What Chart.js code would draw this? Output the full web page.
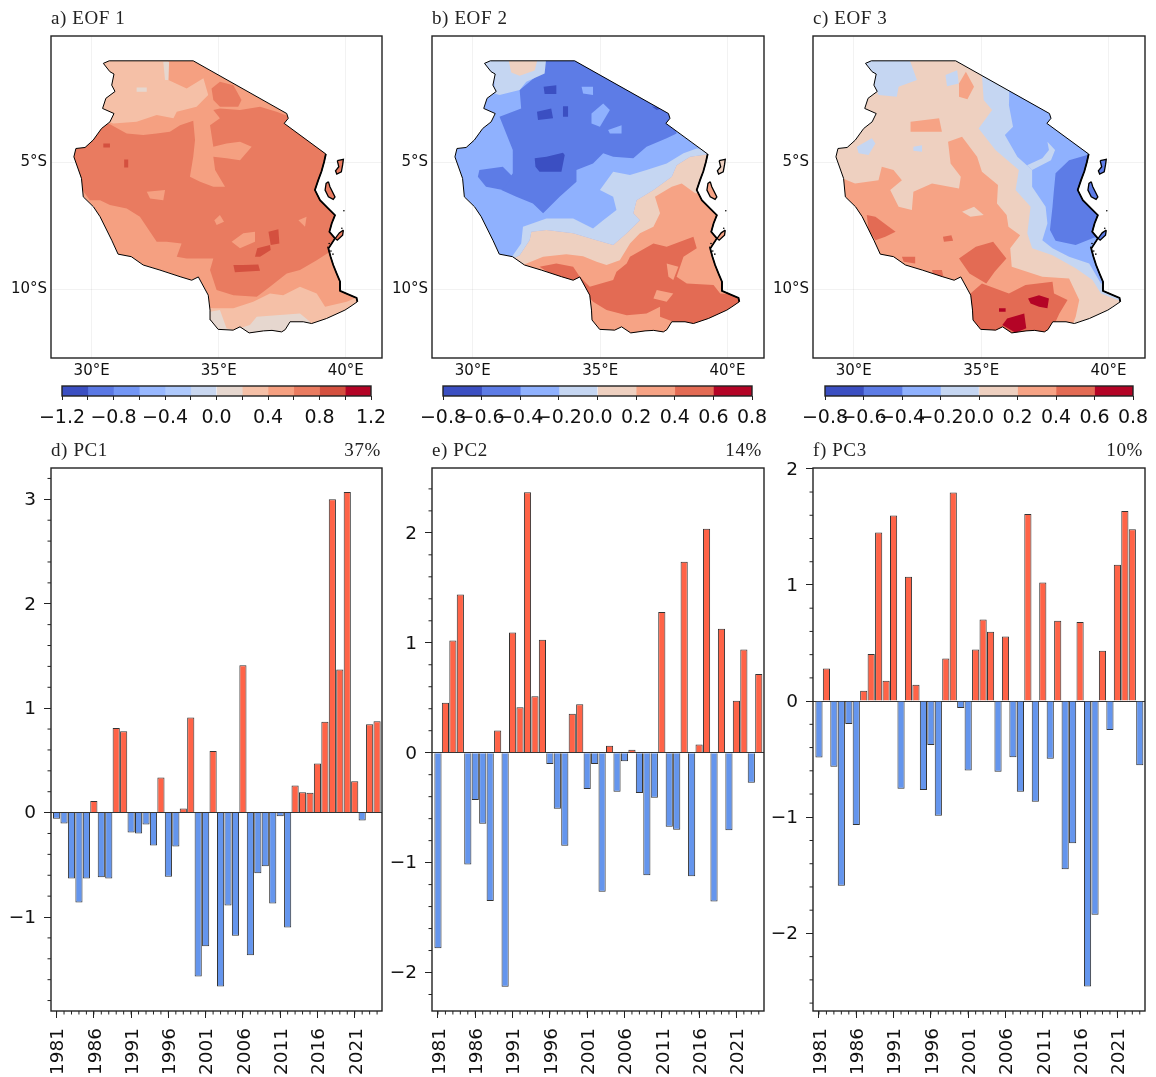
<!DOCTYPE html>
<html><head><meta charset="utf-8">
<script src="https://cdn.jsdelivr.net/npm/chart.js@4"></script>
<style>
html,body{margin:0;padding:0;background:#fff}
#page{position:relative;width:1156px;height:1077px;overflow:hidden;background:#fff}
canvas{position:absolute}
.t{position:absolute;font-family:"Liberation Serif",serif;font-size:19px;letter-spacing:.6px;color:#222;line-height:20px;white-space:nowrap}
</style></head><body><div id="page"></div>
<script>
// ---------- time series ----------
const years=[1981,1982,1983,1984,1985,1986,1987,1988,1989,1990,1991,1992,1993,1994,1995,1996,1997,1998,1999,2000,2001,2002,2003,2004,2005,2006,2007,2008,2009,2010,2011,2012,2013,2014,2015,2016,2017,2018,2019,2020,2021,2022,2023,2024];
const yearLabels=[1981,1986,1991,1996,2001,2006,2011,2016,2021];
const pc1=[-0.06,-0.105,-0.63,-0.86,-0.63,0.11,-0.62,-0.63,0.81,0.78,-0.19,-0.20,-0.115,-0.315,0.335,-0.615,-0.325,0.04,0.91,-1.57,-1.28,0.59,-1.665,-0.89,-1.18,1.41,-1.365,-0.58,-0.515,-0.87,-0.035,-1.10,0.26,0.195,0.19,0.47,0.87,3.0,1.37,3.07,0.30,-0.075,0.845,0.875];
const pc2=[-1.78,0.455,1.02,1.44,-1.017,-0.43,-0.647,-1.35,0.203,-2.13,1.094,0.414,2.37,0.514,1.028,-0.104,-0.51,-0.847,0.355,0.44,-0.33,-0.104,-1.264,0.063,-0.355,-0.078,0.026,-0.366,-1.116,-0.41,1.28,-0.673,-0.70,1.737,-1.124,0.074,2.037,-1.353,1.128,-0.706,0.473,0.939,-0.274,0.717];
const pc3=[-0.486,0.28,-0.566,-1.59,-0.196,-1.066,0.09,0.405,1.451,0.175,1.598,-0.755,1.07,0.14,-0.766,-0.378,-0.986,0.367,1.797,-0.06,-0.598,0.444,0.703,0.598,-0.608,0.556,-0.483,-0.78,1.612,-0.867,1.021,-0.497,0.692,-1.448,-1.224,0.682,-2.458,-1.839,0.434,-0.248,1.175,1.636,1.479,-0.552];
const pc1Ticks=[-1,0,1,2,3], pc2Ticks=[-2,-1,0,1,2], pc3Ticks=[-2,-1,0,1,2];
const pc1Minor=[-1.8,-1.6,-1.4,-1.2,-0.8,-0.6,-0.4,-0.2,0.2,0.4,0.6,0.8,1.2,1.4,1.6,1.8,2.2,2.4,2.6,2.8,3.2];
const pc2Minor=[-2.2,-1.8,-1.6,-1.4,-1.2,-0.8,-0.6,-0.4,-0.2,0.2,0.4,0.6,0.8,1.2,1.4,1.6,1.8,2.2,2.4];
const pc3Minor=[-2.6,-2.4,-2.2,-1.8,-1.6,-1.4,-1.2,-0.8,-0.6,-0.4,-0.2,0.2,0.4,0.6,0.8,1.2,1.4,1.6,1.8];
const positiveColor='#ff6347', negativeColor='#6495ed';

// ---------- colour scales ----------
const levels12=[-1.2,-1,-0.8,-0.6,-0.4,-0.2,0,0.2,0.4,0.6,0.8,1,1.2];
const colors12=['#3b4fc2','#5a78e4','#7396f5','#98b8ff','#aec9fc','#c9d7f0','#e6d7cf','#f5c0a7','#f5a081','#e97b60','#d4503f','#b40426'];
const labels12=[-1.2,-0.8,-0.4,0,0.4,0.8,1.2];
const levels8=[-0.8,-0.6,-0.4,-0.2,0,0.2,0.4,0.6,0.8];
const colors8=['#3b4fc2','#5d7ce6','#8fb1fe','#c5d6f2','#eed0c0','#f6a385','#e36b54','#b40426'];
const labels8=[-0.8,-0.6,-0.4,-0.2,0,0.2,0.4,0.6,0.8];

// ---------- map geography (lon, lat) ----------
const tanzania=[[30.46,-1.09],[30.69,-0.99],[34.0,-0.99],[37.68,-3.07],[37.74,-3.26],[37.58,-3.46],[39.22,-4.67],[39.15,-4.98],[39.05,-5.35],[38.92,-5.7],[38.79,-6.09],[38.99,-6.49],[39.32,-6.82],[39.58,-7.08],[39.45,-7.41],[39.36,-7.74],[39.58,-8.0],[39.32,-8.4],[39.4,-8.7],[39.51,-9.05],[39.65,-9.4],[39.78,-9.71],[39.78,-10.07],[40.17,-10.24],[40.43,-10.35],[40.46,-10.5],[40.17,-10.7],[39.97,-10.83],[39.25,-11.16],[38.66,-11.36],[38.33,-11.29],[37.81,-11.29],[37.62,-11.6],[37.48,-11.69],[37.1,-11.63],[36.76,-11.65],[36.2,-11.73],[35.84,-11.49],[35.57,-11.62],[34.98,-11.59],[34.68,-11.22],[34.66,-10.83],[34.59,-10.24],[34.2,-9.52],[33.94,-9.65],[33.48,-9.51],[32.69,-9.25],[32.03,-9.05],[31.56,-8.72],[31.04,-8.62],[30.79,-8.07],[30.33,-7.14],[30.07,-6.75],[29.67,-6.36],[29.6,-5.63],[29.3,-4.78],[29.38,-4.45],[29.74,-4.41],[30.06,-4.12],[30.39,-3.66],[30.72,-3.4],[30.88,-3.07],[30.43,-2.87],[30.56,-2.47],[30.92,-2.2],[30.79,-1.95],[30.88,-1.51],[30.72,-1.42],[30.46,-1.09]];
const eastCoast=[[39.22,-4.67],[39.15,-4.98],[39.05,-5.35],[38.92,-5.7],[38.79,-6.09],[38.99,-6.49],[39.32,-6.82],[39.58,-7.08],[39.45,-7.41],[39.36,-7.74],[39.58,-8.0],[39.32,-8.4],[39.4,-8.7],[39.51,-9.05],[39.65,-9.4],[39.78,-9.71],[39.78,-10.07],[40.17,-10.24],[40.43,-10.35],[40.46,-10.5]];
const pemba=[[39.67,-4.93],[39.91,-4.88],[39.88,-5.1],[39.83,-5.37],[39.65,-5.46],[39.6,-5.33],[39.73,-5.17],[39.67,-4.93]];
const zanzibar=[[39.32,-5.76],[39.38,-5.96],[39.58,-6.36],[39.51,-6.46],[39.32,-6.36],[39.19,-6.09],[39.23,-5.83],[39.32,-5.76]];
const mafia=[[39.91,-7.67],[39.88,-7.87],[39.67,-8.07],[39.59,-8.0],[39.75,-7.78],[39.91,-7.67]];
const islets=[{x:39.93,y:-6.91},{x:39.85,y:-7.6},{x:39.35,y:-8.2},{x:39.3,y:-8.35},{x:39.42,y:-8.5},{x:39.5,y:-8.62}];

// EOF 1 contour regions
const e1North=[[30.33,-0.83],[33.02,-0.83],[33.02,-1.75],[33.74,-2.08],[34.4,-1.68],[34.59,-2.34],[34.13,-2.8],[33.35,-3.0],[33.22,-3.26],[32.56,-3.13],[31.77,-3.39],[30.85,-3.46],[30.2,-3.2]];
const e1South=[[34.27,-10.7],[34.79,-10.76],[35.58,-10.76],[36.36,-10.5],[37.02,-10.17],[37.54,-10.24],[38.2,-9.91],[38.86,-10.17],[39.19,-10.7],[40.04,-10.5],[40.83,-10.17],[40.83,-12.0],[34.27,-12.0]];
const e1Main=[[30.33,-3.39],[30.72,-3.49],[31.38,-3.86],[32.03,-3.92],[32.56,-3.86],[33.08,-3.79],[33.48,-3.53],[34.0,-3.36],[34.07,-4.12],[34.0,-4.78],[33.87,-5.57],[34.27,-5.76],[34.79,-5.96],[35.25,-5.96],[34.86,-5.3],[34.79,-4.78],[35.31,-4.84],[35.84,-4.91],[36.3,-4.38],[35.84,-4.18],[35.31,-4.25],[34.79,-4.38],[34.66,-3.53],[35.05,-3.26],[34.79,-2.93],[35.05,-2.87],[35.84,-2.93],[36.63,-2.8],[37.28,-3.0],[37.81,-3.2],[39.51,-4.51],[40.04,-7.8],[39.38,-8.53],[38.86,-8.86],[38.2,-9.25],[37.68,-9.38],[37.02,-9.91],[36.5,-10.3],[35.58,-10.24],[34.92,-10.04],[34.66,-9.25],[34.79,-8.79],[33.74,-8.79],[33.35,-8.72],[33.54,-8.2],[32.95,-8.13],[32.56,-8.13],[31.9,-7.14],[31.38,-6.82],[30.72,-6.68],[30.33,-6.49],[29.93,-6.49],[29.54,-5.96],[29.15,-4.91],[29.54,-4.12]];
const e1Patch=[[34.72,-2.08],[35.05,-1.82],[35.58,-1.95],[35.9,-2.54],[35.77,-2.8],[35.05,-2.8],[34.79,-2.54]];
const e1Pale=[[34.66,-10.89],[35.05,-10.83],[35.31,-11.55],[35.58,-11.62],[36.23,-11.42],[36.5,-11.09],[37.28,-11.03],[38.2,-10.96],[38.6,-11.29],[38.46,-11.88],[34.66,-11.88]];
const e1PaleN1=[[32.82,-1.03],[33.05,-1.03],[33.02,-1.75],[32.89,-1.75]];
const e1PaleN2=[[31.77,-2.04],[32.17,-2.04],[32.17,-2.21],[31.77,-2.21]];
const e1Hole1=[[35.51,-8.13],[35.97,-7.8],[36.43,-7.74],[36.43,-8.13],[35.84,-8.39]];
const e1Hole2=[[34.83,-7.28],[35.05,-7.08],[35.21,-7.34],[34.92,-7.47]];
const e1Hole3=[[32.17,-6.16],[32.89,-6.09],[32.82,-6.49],[32.3,-6.42]];
const e1Hole4=[[38.14,-7.28],[38.46,-7.14],[38.4,-7.54]];
const e1Spot1=[[36.96,-7.74],[37.35,-7.64],[37.39,-8.2],[37.05,-8.26]];
const e1Spot2=[[36.52,-8.39],[37.02,-8.26],[37.05,-8.46],[36.63,-8.72],[36.43,-8.72]];
const e1Spot3=[[35.58,-9.05],[35.97,-9.05],[36.56,-9.03],[36.63,-9.28],[35.64,-9.34]];
const e1Spot4=[[30.46,-4.25],[30.72,-4.25],[30.72,-4.41],[30.46,-4.41]];
const e1Spot5=[[31.28,-4.88],[31.44,-4.88],[31.44,-5.2],[31.28,-5.2]];

// EOF 2 contour regions
const e2Blue=[[32.89,-0.89],[34.07,-0.89],[37.87,-3.07],[38.0,-3.86],[37.61,-4.05],[36.82,-4.38],[36.3,-4.84],[35.51,-4.78],[35.12,-4.64],[34.72,-5.04],[34.07,-5.3],[34.07,-5.76],[33.41,-6.36],[32.76,-7.01],[32.36,-6.62],[31.71,-6.36],[31.12,-6.09],[31.57,-5.43],[31.57,-4.51],[31.05,-3.2],[31.9,-2.87],[31.84,-2.14],[32.62,-1.49]];
const e2BlueW=[[30.26,-5.3],[31.18,-5.17],[31.57,-5.57],[31.18,-6.09],[30.52,-5.96],[30.2,-5.57]];
const e2Hole1=[[34.66,-3.07],[35.12,-2.67],[35.38,-2.93],[34.99,-3.59],[34.66,-3.46]];
const e2Hole2=[[35.31,-3.72],[35.84,-3.53],[35.84,-3.86],[35.38,-3.86]];
const e2Hole3=[[34.27,-2.01],[34.72,-2.01],[34.72,-2.34],[34.33,-2.28]];
const e2Deep1=[[32.78,-2.01],[33.28,-1.95],[33.28,-2.3],[32.82,-2.3]];
const e2Deep2=[[32.52,-3.0],[33.08,-2.87],[33.15,-3.26],[32.56,-3.33]];
const e2Deep3=[[33.54,-2.78],[33.74,-2.78],[33.74,-3.2],[33.54,-3.2]];
const e2Deep4=[[32.43,-4.84],[32.89,-4.78],[33.54,-4.62],[33.61,-4.71],[33.48,-5.37],[32.62,-5.37],[32.46,-5.17]];
const e2Deep5=[[37.02,-2.78],[37.41,-2.87],[37.22,-2.93]];
const e2PaleNW=[[30.26,-0.83],[32.89,-0.83],[32.82,-1.49],[32.1,-1.82],[31.84,-2.14],[31.05,-2.34],[30.85,-2.28],[30.85,-1.55]];
const e2PeachNW=[[31.38,-0.85],[32.56,-0.85],[32.43,-1.37],[31.84,-1.58],[31.51,-1.45]];
const e2Band=[[39.32,-4.51],[38.79,-4.45],[38.27,-4.64],[37.61,-5.04],[36.82,-5.3],[36.17,-5.5],[35.51,-5.37],[34.99,-6.09],[35.51,-6.36],[35.64,-6.88],[35.12,-7.28],[34.72,-7.61],[33.94,-7.21],[32.89,-7.21],[31.97,-7.54],[31.9,-8.2],[31.44,-8.86],[31.84,-8.66],[32.23,-8.07],[32.3,-7.74],[32.89,-7.67],[33.94,-7.8],[34.86,-8.07],[35.51,-8.26],[36.04,-7.8],[36.56,-7.28],[36.3,-7.01],[36.43,-6.49],[37.09,-6.09],[37.81,-5.57],[38.0,-5.11],[38.53,-4.78],[39.32,-4.67]];
const e2Warm=[[30.6,-9.5],[31.44,-8.86],[31.84,-8.66],[32.23,-8.07],[32.3,-7.74],[32.89,-7.67],[33.94,-7.8],[34.86,-8.07],[35.51,-8.26],[36.04,-7.8],[36.56,-7.28],[36.3,-7.01],[36.43,-6.49],[37.09,-6.09],[37.81,-5.57],[38.0,-5.11],[38.53,-4.78],[39.32,-4.67],[41.0,-4.67],[41.0,-12.5],[30.6,-12.5]];
const e2Salmon=[[31.97,-9.05],[32.76,-8.72],[33.67,-8.62],[34.33,-8.7],[34.86,-8.92],[35.25,-9.05],[35.77,-8.86],[36.17,-8.2],[36.56,-7.8],[37.09,-7.54],[37.35,-7.01],[37.15,-6.36],[37.81,-5.96],[38.2,-5.83],[38.73,-6.22],[41.0,-6.22],[41.0,-12.5],[31.97,-12.5]];
const e2Red=[[32.62,-9.12],[33.28,-8.99],[33.94,-9.12],[34.2,-9.51],[34.59,-9.91],[35.51,-9.64],[35.64,-9.32],[36.04,-8.99],[36.17,-8.72],[37.09,-8.2],[37.61,-8.33],[38.66,-7.93],[38.79,-8.39],[38.27,-8.72],[38.0,-9.51],[38.4,-9.78],[39.45,-9.84],[39.71,-10.17],[40.63,-10.24],[40.63,-10.5],[39.71,-11.03],[38.66,-11.42],[37.87,-11.29],[37.35,-11.09],[37.35,-10.7],[36.82,-10.96],[36.04,-11.03],[35.25,-10.83],[34.72,-10.5],[34.33,-10.04],[33.94,-9.64],[33.15,-9.45]];
const e2RedHole1=[[37.22,-10.04],[37.87,-10.17],[37.61,-10.5],[37.09,-10.37]];
const e2RedHole2=[[37.61,-8.99],[38.07,-9.12],[37.87,-9.64],[37.68,-9.51]];

// EOF 3 contour regions
const e3PaleNW=[[30.31,-0.83],[32.15,-0.83],[32.48,-1.75],[31.76,-2.01],[31.69,-2.41],[30.97,-2.34],[30.58,-1.42]];
const e3Pale1=[[33.6,-1.55],[34.06,-1.36],[34.12,-1.88],[33.66,-1.99]];
const e3Pale2=[[32.34,-4.38],[32.68,-4.32],[32.68,-4.58],[32.34,-4.54]];
const e3Pale3=[[30.12,-4.38],[30.71,-4.05],[30.85,-4.25],[30.58,-4.71],[30.19,-4.64]];
const e3PaleE=[[35.03,-1.55],[35.1,-2.54],[35.43,-2.93],[34.9,-3.66],[35.56,-4.51],[36.48,-5.3],[36.35,-6.09],[36.94,-6.75],[36.81,-7.8],[37.0,-8.39],[37.8,-8.66],[38.71,-9.18],[39.37,-9.64],[39.7,-10.17],[40.55,-10.5],[41.0,-10.5],[41.0,-0.8],[35.03,-0.8]];
const e3Mid=[[36.1,-2.41],[36.09,-2.74],[36.25,-3.59],[35.93,-3.92],[36.42,-4.78],[37.0,-5.3],[37.0,-5.96],[37.53,-6.75],[37.6,-7.41],[37.4,-8.07],[37.8,-8.39],[38.45,-8.72],[39.24,-8.99],[39.7,-9.78],[41.0,-9.78],[41.0,-1.0],[36.1,-1.0]];
const e3Hook=[[37.6,-4.18],[37.9,-4.51],[37.74,-4.91],[37.0,-5.3],[36.8,-5.11],[37.4,-4.84],[37.66,-4.51]];
const e3Deep=[[39.3,-4.67],[38.45,-4.91],[37.92,-5.43],[37.85,-6.16],[37.8,-6.75],[37.7,-7.67],[37.92,-8.09],[38.71,-8.26],[39.44,-7.96],[41.0,-7.96],[41.0,-4.67]];
const e3Salmon=[[29.4,-5.57],[30.05,-5.83],[30.97,-5.7],[31.1,-5.17],[31.56,-5.3],[31.89,-5.7],[31.43,-6.09],[31.76,-6.75],[32.28,-6.88],[32.34,-6.16],[33.07,-5.83],[34.13,-6.03],[34.2,-5.57],[33.8,-5.04],[33.7,-4.18],[34.25,-3.99],[34.84,-4.78],[35.03,-5.37],[35.66,-5.89],[35.62,-6.62],[36.0,-7.08],[36.07,-7.54],[36.53,-7.87],[36.14,-8.39],[36.2,-9.12],[37.4,-9.51],[38.45,-9.58],[38.85,-10.43],[38.71,-11.09],[38.45,-11.75],[29.5,-11.75]];
const e3SalmonN=[[34.13,-1.88],[34.4,-1.42],[34.72,-2.01],[34.46,-2.51],[34.13,-2.41]];
const e3SalmonW=[[32.23,-3.39],[33.35,-3.26],[33.46,-3.79],[32.23,-3.79]];
const e3PeachHole=[[34.25,-6.95],[34.72,-6.75],[35.1,-7.08],[34.58,-7.14]];
const e3RedW=[[30.51,-7.08],[30.85,-7.14],[31.64,-7.74],[31.24,-7.93],[30.85,-8.07],[30.58,-7.67]];
const e3RedMid=[[34.79,-8.33],[35.47,-8.13],[35.99,-8.79],[35.53,-9.32],[35.2,-9.78],[34.54,-9.38],[34.13,-8.79]];
const e3RedS=[[34.58,-10.17],[35.03,-9.78],[36.09,-10.17],[36.74,-9.84],[37.8,-9.71],[37.86,-10.17],[38.39,-10.43],[38.07,-10.96],[37.8,-11.55],[37.8,-11.88],[34.3,-11.88],[34.3,-10.43]];
const e3Red1=[[33.5,-7.93],[33.83,-7.87],[33.9,-8.09],[33.54,-8.13]];
const e3Red2=[[31.89,-8.72],[32.41,-8.72],[32.41,-8.99],[31.96,-8.92]];
const e3Red3=[[33.07,-9.25],[33.46,-9.25],[33.53,-9.58],[33.14,-9.51]];
const e3Max1=[[36.02,-11.16],[36.69,-10.96],[36.77,-11.55],[36.35,-11.72],[35.83,-11.42]];
const e3Max2=[[36.84,-10.37],[37.27,-10.24],[37.66,-10.37],[37.6,-10.76],[37.27,-10.7],[36.94,-10.57]];
const e3Max3=[[35.7,-10.76],[35.96,-10.76],[35.96,-10.89],[35.7,-10.89]];

const c12=i=>colors12[i], c8=i=>colors8[i];
// painted bottom-to-top: [region, colour]
const eof1Layers=[[tanzania,c12(8)],[e1North,c12(7)],[e1South,c12(7)],[e1Pale,c12(6)],[e1PaleN1,c12(6)],[e1PaleN2,c12(6)],[e1Main,c12(9)],[e1Patch,c12(9)],[e1Hole1,c12(8)],[e1Hole2,c12(8)],[e1Hole3,c12(8)],[e1Hole4,c12(8)],[e1Spot1,c12(10)],[e1Spot2,c12(10)],[e1Spot3,c12(10)],[e1Spot4,c12(10)],[e1Spot5,c12(10)]];
const eof2Layers=[[tanzania,c8(2)],[e2Blue,c8(1)],[e2BlueW,c8(1)],[e2Hole1,c8(2)],[e2Hole2,c8(2)],[e2Hole3,c8(2)],[e2Deep1,c8(0)],[e2Deep2,c8(0)],[e2Deep3,c8(0)],[e2Deep4,c8(0)],[e2Deep5,c8(0)],[e2PaleNW,c8(3)],[e2PeachNW,c8(4)],[e2Band,c8(3)],[e2Warm,c8(4)],[e2Salmon,c8(5)],[e2Red,c8(6)],[e2RedHole1,c8(5)],[e2RedHole2,c8(5)]];
const eof3Layers=[[tanzania,c8(4)],[e3PaleNW,c8(3)],[e3Pale1,c8(3)],[e3Pale2,c8(3)],[e3Pale3,c8(3)],[e3PaleE,c8(3)],[e3Mid,c8(2)],[e3Hook,c8(3)],[e3Deep,c8(1)],[e3Salmon,c8(5)],[e3SalmonN,c8(5)],[e3SalmonW,c8(5)],[e3PeachHole,c8(4)],[e3RedW,c8(6)],[e3RedMid,c8(6)],[e3RedS,c8(6)],[e3Red1,c8(6)],[e3Red2,c8(6)],[e3Red3,c8(6)],[e3Max1,c8(7)],[e3Max2,c8(7)],[e3Max3,c8(7)]];
const eof1Islands=[[pemba,c12(9)],[zanzibar,c12(9)],[mafia,c12(9)]];
const eof2Islands=[[pemba,c8(4)],[zanzibar,c8(5)],[mafia,c8(5)]];
const eof3Islands=[[pemba,c8(1)],[zanzibar,c8(1)],[mafia,c8(1)]];
const lonTicks=[30,35,40], latTicks=[-5,-10];

// ---------- helpers ----------
const page=document.getElementById('page');
const SANS='"DejaVu Sans",sans-serif';
const INK='#111';
function cv(l,t,w,h){const c=document.createElement('canvas');c.width=w;c.height=h;c.style.left=l+'px';c.style.top=t+'px';c.style.width=w+'px';c.style.height=h+'px';page.appendChild(c);return c;}
function label(txt,x,y,right){const d=document.createElement('div');d.className='t';d.textContent=txt;d.style.top=(y-10)+'px';if(right){d.style.right=(1156-x)+'px'}else{d.style.left=x+'px'}page.appendChild(d);}
const framePlugin={id:'frame',afterDraw(ch){const a=ch.chartArea,c=ch.ctx;c.save();c.strokeStyle='#222';c.lineWidth=1.4;c.strokeRect(a.left,a.top,a.right-a.left,a.bottom-a.top);c.restore();}};
const fixed=(n)=>s=>{if(s.isHorizontal())s.height=n;else s.width=n;};
const only=(list)=>s=>{s.ticks=list.map(v=>({value:v}));};

function mapChart(plotL,plotR,layers,islands){
  const canvasL=plotL-51, w=plotR-canvasL+12, top=36, bottom=358;
  const xy=p=>p.map(([x,y])=>({x,y}));
  const ds=[];
  const total=layers.length+islands.length+3;
  let k=0;
  layers.forEach(([p,col])=>{ds.push({data:xy(p),fill:'shape',backgroundColor:col,borderColor:col,borderWidth:0,pointRadius:0,order:total-(k++)});});
  islands.forEach(([p,col])=>{ds.push({data:xy(p),fill:'shape',backgroundColor:col,borderColor:'#000',borderWidth:1.3,pointRadius:0,order:total-(k++)});});
  ds.push({data:xy(tanzania),fill:false,borderColor:'#000',borderWidth:1,pointRadius:0,order:total-(k++)});
  ds.push({data:xy(eastCoast),fill:false,borderColor:'#000',borderWidth:1.8,pointRadius:0,order:total-(k++)});
  ds.push({data:islets,showLine:false,backgroundColor:'#000',borderWidth:0,pointRadius:0.8,pointBorderWidth:0,order:total-(k++)});
  const lastBand=layers.length-1;
  const clipPlugin={id:'countryClip',
    beforeDatasetsDraw(ch){const c=ch.ctx,sx=ch.scales.x,sy=ch.scales.y;c.save();c.beginPath();tanzania.forEach(([x,y],i)=>{const px=sx.getPixelForValue(x),py=sy.getPixelForValue(y);i?c.lineTo(px,py):c.moveTo(px,py);});c.closePath();c.clip();},
    afterDatasetDraw(ch,args){if(args.index===lastBand)ch.ctx.restore();}};
  new Chart(cv(canvasL,0,w,400),{type:'line',data:{datasets:ds},plugins:[clipPlugin,framePlugin],options:{
    responsive:false,animation:false,
    layout:{autoPadding:false,padding:{top:top,right:12,left:0,bottom:0}},
    plugins:{legend:{display:false},tooltip:{enabled:false},title:{display:false}},
    scales:{
      x:{type:'linear',min:28.4,max:41.43,afterBuildTicks:only(lonTicks),afterFit:fixed(400-bottom),grid:{color:'rgba(0,0,0,0.05)',drawTicks:false},border:{display:false},
        ticks:{padding:4,maxRotation:0,autoSkip:false,color:INK,font:{family:SANS,size:15},callback:v=>v+'°E'}},
      y:{type:'linear',min:-12.72,max:-0.01,afterBuildTicks:only(latTicks),afterFit:fixed(51),grid:{color:'rgba(0,0,0,0.05)',drawTicks:false},border:{display:false},
        ticks:{padding:4,autoSkip:false,color:INK,font:{family:SANS,size:15},callback:v=>(-v)+'°S'}}
    }}});
}

function colorbar(l,r,levels,colors,labelled){
  const pad=34, w=Math.round(r-l)+pad*2, t=376;
  const ds=colors.map((c,i)=>({data:[[levels[i],levels[i+1]]],backgroundColor:c,borderWidth:0,barPercentage:1,categoryPercentage:1,grouped:false}));
  new Chart(cv(l-pad,t,w,62),{type:'bar',data:{labels:[''],datasets:ds},plugins:[framePlugin],options:{
    indexAxis:'y',responsive:false,animation:false,
    layout:{autoPadding:false,padding:{top:10,left:pad,right:pad,bottom:0}},
    plugins:{legend:{display:false},tooltip:{enabled:false}},
    scales:{
      y:{display:false,offset:true},
      x:{type:'linear',min:levels[0],max:levels[levels.length-1],afterBuildTicks:only(levels),afterFit:fixed(42),border:{display:false},
        grid:{drawOnChartArea:false,drawTicks:true,tickLength:4,tickColor:'#222',tickWidth:1,color:'#222'},
        ticks:{padding:7,maxRotation:0,autoSkip:false,color:INK,font:{family:SANS,size:19},
          callback:v=>{const hit=labelled.some(x=>Math.abs(x-v)<1e-6);return hit?(Math.abs(v)<1e-6?'0.0':v.toFixed(1).replace('-','\u2212')):'';}}}
    }}});
}

function pcChart(plotL,plotR,xMin,xMax,yMin,yMax,vals,yTicks,yMinor){
  const canvasL=plotL-51, w=plotR-canvasL+10, H=637, top=28, bottom=1011-440;
  const minor={id:'minorTicks',afterDraw(ch){const c=ch.ctx,a=ch.chartArea,sx=ch.scales.x,sy=ch.scales.y;c.save();c.strokeStyle='#222';c.lineWidth=1;c.beginPath();
    years.forEach(v=>{const p=sx.getPixelForValue(v);c.moveTo(p,a.bottom);c.lineTo(p,a.bottom+3.5);});
    yMinor.forEach(v=>{const p=sy.getPixelForValue(v);c.moveTo(a.left,p);c.lineTo(a.left-3.5,p);});c.stroke();c.restore();}};
  const fmt=v=>String(v).replace('-','\u2212');
  new Chart(cv(canvasL,440,w,H),{type:'bar',data:{datasets:[{
      data:years.map((x,i)=>({x,y:vals[i]})),
      backgroundColor:vals.map(v=>v>=0?positiveColor:negativeColor),
      borderColor:'#333',borderWidth:1,barPercentage:0.96,categoryPercentage:1}]},
    plugins:[minor,framePlugin],options:{
    responsive:false,animation:false,
    layout:{autoPadding:false,padding:{top:top,right:10,left:0,bottom:0}},
    plugins:{legend:{display:false},tooltip:{enabled:false}},
    scales:{
      x:{type:'linear',offset:false,min:xMin,max:xMax,afterBuildTicks:only(yearLabels),afterFit:fixed(H-bottom),border:{display:false},
        grid:{offset:false,drawOnChartArea:false,tickLength:7,tickColor:'#222',color:'#222'},
        ticks:{padding:10,labelOffset:2,minRotation:90,maxRotation:90,autoSkip:false,color:INK,font:{family:SANS,size:18.5},callback:v=>String(v)}},
      y:{type:'linear',min:yMin,max:yMax,afterBuildTicks:only(yTicks),afterFit:fixed(51),border:{display:false},
        grid:{tickLength:7,tickColor:'#222',color:c=>c.tick&&c.tick.value===0?'#333':'rgba(0,0,0,0)'},
        ticks:{padding:8,labelOffset:1,autoSkip:false,color:INK,font:{family:SANS,size:18.5},callback:fmt}}
    }}});
}

// ---------- build ----------
mapChart(51,382,eof1Layers,eof1Islands);
mapChart(432,764,eof2Layers,eof2Islands);
mapChart(813,1145,eof3Layers,eof3Islands);
colorbar(62,371,levels12,colors12,labels12);
colorbar(443,752,levels8,colors8,labels8);
colorbar(825,1133,levels8,colors8,labels8);
pcChart(51,382,1980.25,2024.66,-1.90,3.30,pc1,pc1Ticks,pc1Minor);
pcChart(432,764,1980.2,2024.7,-2.35,2.59,pc2,pc2Ticks,pc2Minor);
pcChart(813,1145,1980.2,2024.7,-2.668,2.007,pc3,pc3Ticks,pc3Minor);
label('a) EOF 1',51,18);label('b) EOF 2',432,18);label('c) EOF 3',813,18);
label('d) PC1',51,450);label('e) PC2',432,450);label('f) PC3',813,450);
label('37%',381,450,true);label('14%',762,450,true);label('10%',1143,450,true);
</script></body></html>
